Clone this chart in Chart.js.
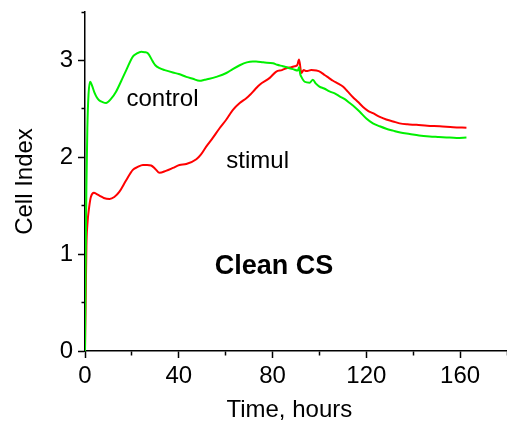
<!DOCTYPE html>
<html>
<head>
<meta charset="utf-8">
<script src="https://cdn.jsdelivr.net/npm/chart.js@4"></script>
<style>
  html, body { margin: 0; padding: 0; background: #fff; }
  #wrap { width: 507px; height: 426px; position: relative; }
</style>
</head>
<body>
<div id="wrap"><canvas id="cellChart"></canvas></div>
<script>
// control curve (hours, cell index)
const controlTime = [0, 0.3, 0.6, 1, 1.5, 2.2, 3, 4, 5, 6, 7.5, 9, 11, 13.3, 15.5, 17.6, 20.4, 22, 24, 25.5, 26.8, 28.9, 30, 31.8, 34, 37.5, 40, 43.2, 46, 48.9, 51, 53.1, 56, 60.3, 63, 66, 69, 71.6, 73, 76, 80.2, 82, 84.4, 86.5, 88.7, 90.8, 91.3, 91.8, 92.3, 93.7, 95.8, 97.2, 98.5, 100, 102, 104.3, 106.5, 108.6, 110.8, 112.9, 115, 117.2, 120, 122.8, 125.7, 128.5, 131.4, 134.5, 138.5, 142.5, 147, 150.5, 154.2, 158.5, 162.7];
const controlIndex = [0, 1.0, 1.7, 2.3, 2.65, 2.78, 2.74, 2.67, 2.62, 2.59, 2.57, 2.56, 2.6, 2.68, 2.79, 2.9, 3.04, 3.07, 3.09, 3.085, 3.075, 2.99, 2.95, 2.92, 2.9, 2.875, 2.86, 2.83, 2.81, 2.79, 2.8, 2.81, 2.83, 2.87, 2.91, 2.95, 2.98, 2.99, 2.99, 2.98, 2.97, 2.955, 2.94, 2.925, 2.91, 2.895, 2.93, 2.86, 2.83, 2.78, 2.77, 2.8, 2.76, 2.73, 2.71, 2.68, 2.66, 2.63, 2.6, 2.56, 2.52, 2.47, 2.4, 2.35, 2.32, 2.295, 2.275, 2.255, 2.24, 2.225, 2.215, 2.21, 2.205, 2.2, 2.205];

// stimulated curve
const stimulTime = [0, 0.3, 0.6, 1, 1.8, 2.5, 3.8, 5, 6.5, 8, 10.5, 12.5, 14.7, 17.5, 20.4, 22.5, 24.7, 26.5, 28.2, 30, 31.8, 34.5, 37.5, 40.3, 43.2, 47.5, 49.5, 51.7, 54.5, 57.4, 60.3, 63.1, 66, 68.8, 70.2, 72.5, 74.5, 78.8, 81.6, 84, 85.9, 88, 89.4, 90.5, 91.3, 92.3, 93.3, 94.4, 96.5, 98.7, 100.5, 102.2, 104, 105.8, 108, 110, 112, 114.3, 116.5, 118.6, 120.7, 122.8, 125.5, 128.5, 131.4, 134.2, 137.5, 141.4, 146, 151.3, 157, 162.7];
const stimulIndex = [0, 0.55, 1.08, 1.3, 1.49, 1.59, 1.635, 1.62, 1.6, 1.58, 1.57, 1.59, 1.645, 1.76, 1.87, 1.9, 1.92, 1.92, 1.915, 1.88, 1.84, 1.86, 1.89, 1.92, 1.93, 1.98, 2.03, 2.11, 2.2, 2.3, 2.39, 2.49, 2.56, 2.61, 2.64, 2.7, 2.75, 2.82, 2.885, 2.9, 2.92, 2.93, 2.94, 2.95, 3.01, 2.87, 2.9, 2.89, 2.9, 2.895, 2.88, 2.85, 2.82, 2.79, 2.76, 2.73, 2.68, 2.62, 2.57, 2.52, 2.48, 2.455, 2.42, 2.39, 2.37, 2.35, 2.34, 2.335, 2.325, 2.32, 2.31, 2.305];

// axis ticks (labelled ones; the others are minor)
const xTickLabels = [0, 40, 80, 120, 160];
const yTickLabels = [0, 1, 2, 3];

const fontFamily = '"Liberation Sans", Arial, sans-serif';

// free text labels inside the plot, anchored in data units
const notes = [
    { text: 'control', x: 17.7, y: 2.53, bold: false, size: 24 },
    { text: 'stimul', x: 60.3, y: 1.89, bold: false, size: 24 },
    { text: 'Clean CS', x: 55.3, y: 0.8, bold: true, size: 27 }
];

const notesPlugin = {
    id: 'notes',
    afterDatasetsDraw(chart) {
        const ctx = chart.ctx;
        const xs = chart.scales.x, ys = chart.scales.y;
        ctx.save();
        ctx.fillStyle = '#000';
        ctx.textAlign = 'left';
        ctx.textBaseline = 'alphabetic';
        notes.forEach(n => {
            ctx.font = (n.bold ? 'bold ' : '') + n.size + 'px ' + fontFamily;
            ctx.fillText(n.text, xs.getPixelForValue(n.x), ys.getPixelForValue(n.y));
        });
        ctx.restore();
    }
};

function toPoints(xs, ys) {
    return xs.map((x, i) => ({ x: x, y: ys[i] }));
}

new Chart(document.getElementById('cellChart'), {
    type: 'line',
    data: {
        datasets: [
            {
                label: 'control',
                data: toPoints(controlTime, controlIndex),
                borderColor: '#00f000',
                borderWidth: 2,
                pointRadius: 0,
                cubicInterpolationMode: 'monotone'
            },
            {
                label: 'stimul',
                data: toPoints(stimulTime, stimulIndex),
                borderColor: '#ff0000',
                borderWidth: 2,
                pointRadius: 0,
                cubicInterpolationMode: 'monotone'
            }
        ]
    },
    options: {
        responsive: true,
        maintainAspectRatio: false,
        animation: false,
        layout: { padding: { top: 12, right: 0, left: 0, bottom: 0 } },
        plugins: { legend: { display: false }, tooltip: { enabled: false } },
        scales: {
            x: {
                type: 'linear',
                min: 0,
                max: 180,
                afterFit: s => { s.height = 75; s.paddingLeft = 0; s.paddingRight = 0; },
                border: { color: '#000', width: 1.5 },
                grid: {
                    drawOnChartArea: false,
                    drawTicks: true,
                    tickLength: 7,
                    tickColor: '#000',
                    tickWidth: 1.5,
                    // minor ticks drawn shorter (line runs from the axis outwards)
                    tickBorderDash: c => xTickLabels.includes(c.tick && c.tick.value) ? [] : [4, 100]
                },
                ticks: {
                    stepSize: 20,
                    autoSkip: false,
                    maxRotation: 0,
                    color: '#000',
                    padding: 4,
                    font: { family: fontFamily, size: 24 },
                    callback: v => xTickLabels.includes(v) ? String(v) : ''
                },
                title: {
                    display: true,
                    text: 'Time, hours  ',
                    color: '#000',
                    font: { family: fontFamily, size: 24 },
                    padding: { top: 0, bottom: 1 }
                }
            },
            y: {
                type: 'linear',
                min: 0,
                max: 3.5,
                afterFit: s => { s.width = 85; s.paddingTop = 0; s.paddingBottom = 0; },
                border: { color: '#000', width: 1.5 },
                grid: {
                    drawOnChartArea: false,
                    drawTicks: true,
                    tickLength: 7,
                    tickColor: '#000',
                    tickWidth: 1.5,
                    // line runs from the outer end to the axis: skip the outer part
                    tickBorderDash: c => yTickLabels.includes(c.tick && c.tick.value) ? [] : [0, 3.5, 4, 100]
                },
                ticks: {
                    stepSize: 0.5,
                    autoSkip: false,
                    color: '#000',
                    padding: 5,
                    font: { family: fontFamily, size: 24 },
                    callback: v => yTickLabels.includes(v) ? String(v) : ''
                },
                title: {
                    display: true,
                    text: 'Cell Index',
                    color: '#000',
                    font: { family: fontFamily, size: 24 },
                    padding: { top: 11, bottom: 0 }
                }
            }
        }
    },
    plugins: [notesPlugin]
});
</script>
</body>
</html>
